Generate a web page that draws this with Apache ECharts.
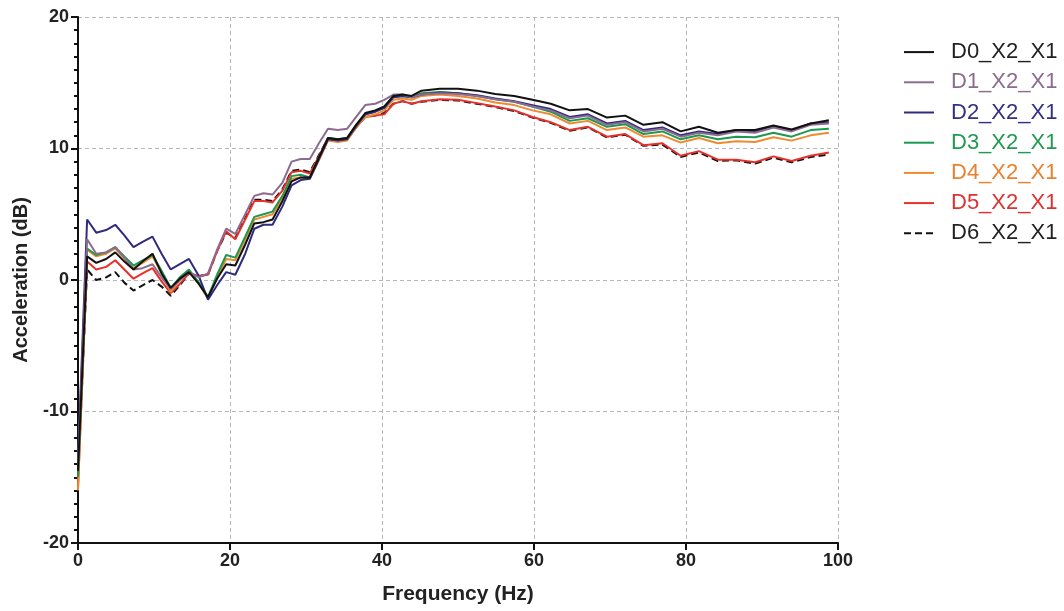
<!DOCTYPE html>
<html>
<head>
<meta charset="utf-8">
<script src="https://cdn.jsdelivr.net/npm/echarts@6/dist/echarts.min.js"></script>
<style>
html,body{margin:0;padding:0;background:#fff;}
#chart{width:1064px;height:611px;}
</style>
</head>
<body>
<div id="chart"></div>
<script>
const freq = [0, 1.2, 2.4, 3.7, 4.9, 6.1, 7.3, 8.5, 9.8, 11.0, 12.2, 13.4, 14.6, 15.9, 17.1, 18.3, 19.5,
  20.7, 22.0, 23.2, 24.4, 25.6, 26.9, 28.1, 29.3, 30.5, 31.7, 32.9, 34.2, 35.4, 36.6, 37.8, 39.1, 40.3, 41.5, 42.7, 43.9,
  45.2, 47.6, 50.0, 52.5, 54.9, 57.4, 59.8, 62.2, 64.7, 67.1, 69.6, 72.0, 74.4, 76.9, 79.3, 81.7, 84.2, 86.6, 89.1, 91.5, 93.9, 96.4, 98.8];

const D0 = [-14.5, 1.8, 1.3, 1.6, 2.1, 1.4, 0.8, 1.4, 2.0, 0.5, -0.6, 0.1, 0.6, -0.3, -1.3, 0.1, 1.2,
  1.1, 2.7, 4.3, 4.4, 4.6, 6.0, 7.5, 7.8, 7.8, 9.3, 10.8, 10.7, 10.8, 11.8, 12.7, 12.9, 13.2, 14.0, 14.1, 14.0,
  14.4, 14.55, 14.55, 14.4, 14.15, 14.0, 13.7, 13.4, 12.9, 13.0, 12.35, 12.5, 11.8, 12.0, 11.3, 11.65, 11.2, 11.4, 11.4, 11.75, 11.45, 11.9, 12.15];
const D1 = [-14.0, 3.1, 2.0, 2.1, 2.5, 1.7, 0.8, 0.9, 1.2, 0.2, -0.7, 0.0, 0.6, 0.2, 0.5, 2.3, 3.9,
  3.5, 5.0, 6.4, 6.6, 6.5, 7.4, 9.0, 9.2, 9.2, 10.4, 11.5, 11.4, 11.5, 12.4, 13.3, 13.4, 13.7, 14.1, 14.1, 13.9,
  14.1, 14.2, 14.15, 14.0, 13.75, 13.55, 13.2, 12.9, 12.3, 12.5, 11.8, 12.0, 11.3, 11.5, 10.9, 11.2, 11.0, 11.3, 11.2, 11.6, 11.3, 11.8, 11.9];
const D2 = [-13.5, 4.6, 3.6, 3.8, 4.2, 3.4, 2.5, 2.9, 3.3, 2.0, 0.8, 1.2, 1.6, 0.3, -1.5, -0.4, 0.6,
  0.4, 2.0, 3.9, 4.2, 4.2, 5.6, 7.2, 7.6, 7.7, 9.2, 10.7, 10.6, 10.7, 11.7, 12.6, 12.8, 13.1, 13.9, 14.0, 13.9,
  14.1, 14.25, 14.2, 14.05, 13.8, 13.6, 13.3, 13.0, 12.4, 12.6, 11.9, 12.1, 11.4, 11.6, 11.0, 11.3, 11.1, 11.4, 11.3, 11.7, 11.4, 11.9, 12.0];
const D3 = [-15.0, 2.4, 1.9, 2.1, 2.5, 1.8, 1.1, 1.5, 1.9, 0.7, -0.6, 0.2, 0.8, -0.2, -1.3, 0.4, 1.9,
  1.7, 3.3, 4.8, 5.0, 5.2, 6.4, 7.9, 8.0, 7.8, 9.3, 10.8, 10.7, 10.8, 11.8, 12.6, 12.8, 13.1, 13.9, 14.0, 13.9,
  14.2, 14.3, 14.2, 14.0, 13.75, 13.55, 13.2, 12.8, 12.1, 12.3, 11.65, 11.85, 11.1, 11.3, 10.7, 11.0, 10.7, 10.9, 10.85, 11.2, 10.9, 11.4, 11.5];
const D4 = [-16.0, 2.3, 1.8, 2.0, 2.4, 1.6, 0.9, 1.3, 1.8, 0.5, -0.9, 0.0, 0.7, -0.3, -1.4, 0.2, 1.6,
  1.5, 3.1, 4.6, 4.8, 5.0, 6.2, 7.7, 7.8, 7.7, 9.1, 10.6, 10.5, 10.6, 11.6, 12.4, 12.6, 12.9, 13.7, 13.8, 13.7,
  14.0, 14.1, 14.0, 13.8, 13.5, 13.3, 12.9, 12.6, 11.9, 12.1, 11.4, 11.6, 10.9, 11.0, 10.45, 10.8, 10.4, 10.55, 10.5, 10.85, 10.6, 11.0, 11.2];
const D5 = [-15.8, 1.4, 0.8, 1.0, 1.5, 0.8, 0.1, 0.5, 0.9, -0.1, -1.0, -0.3, 0.5, 0.3, 0.4, 2.2, 3.7,
  3.1, 4.6, 6.0, 6.0, 5.9, 6.8, 8.2, 8.3, 8.1, 9.4, 10.8, 10.6, 10.7, 11.6, 12.4, 12.5, 12.6, 13.4, 13.6, 13.4,
  13.6, 13.75, 13.7, 13.45, 13.2, 12.9, 12.4, 12.0, 11.4, 11.65, 10.9, 11.1, 10.25, 10.4, 9.45, 9.8, 9.15, 9.15, 8.95, 9.4, 9.05, 9.45, 9.7];
const D6 = [-15.0, 0.8, 0.0, 0.2, 0.6, -0.2, -0.8, -0.4, 0.0, -0.5, -1.2, -0.4, 0.5, 0.3, 0.4, 2.2, 3.6,
  3.2, 4.7, 6.1, 6.1, 6.0, 6.9, 8.3, 8.4, 8.2, 9.5, 10.8, 10.6, 10.7, 11.6, 12.4, 12.5, 12.7, 13.4, 13.6, 13.4,
  13.55, 13.7, 13.65, 13.4, 13.15, 12.85, 12.35, 11.95, 11.35, 11.6, 10.85, 11.05, 10.2, 10.3, 9.35, 9.7, 9.05, 9.1, 8.85, 9.3, 8.95, 9.35, 9.55];

const names = ['D0_X2_X1', 'D1_X2_X1', 'D2_X2_X1', 'D3_X2_X1', 'D4_X2_X1', 'D5_X2_X1', 'D6_X2_X1'];
const values = [D0, D1, D2, D3, D4, D5, D6];
const colors = ['#111111', '#8c6b8e', '#2f2b80', '#1a9a50', '#f08a30', '#e8302a', '#111111'];
const textColors = ['#222222', '#8c6b8e', '#332f85', '#1f9a4f', '#e8822f', '#e03030', '#222222'];

const font = '"Liberation Sans", Arial, sans-serif';

const chart = echarts.init(document.getElementById('chart'), null, {renderer: 'canvas'});

const series = names.map((n, i) => ({
  name: n,
  type: 'line',
  data: freq.map((f, j) => [f, values[i][j]]),
  showSymbol: false,
  symbol: 'none',
  z: 10 - i,
  lineStyle: {color: colors[i], width: 2, type: i === 6 ? [7, 4] : 'solid'},
  itemStyle: {color: colors[i]}
}));

chart.setOption({
  animation: false,
  backgroundColor: '#ffffff',
  grid: {left: 78, right: 226, top: 17, bottom: 68},
  legend: {
    orient: 'vertical',
    left: 898,
    top: 36,
    itemWidth: 30,
    itemHeight: 14,
    itemGap: 8,
    itemStyle: {opacity: 0},
    data: names.map((n, i) => ({name: n, textStyle: {color: textColors[i]}})),
    textStyle: {fontFamily: font, fontSize: 22, lineHeight: 22.2, padding: [0, 0, 0, 12]}
  },
  xAxis: {
    type: 'value',
    min: 0, max: 100, interval: 20,
    name: 'Frequency (Hz)',
    nameLocation: 'middle',
    nameGap: 41,
    nameTextStyle: {fontFamily: font, fontWeight: 'bold', fontSize: 21, color: '#222'},
    axisLine: {onZero: false, lineStyle: {color: '#111', width: 2}},
    axisTick: {show: true, length: 7, lineStyle: {color: '#111', width: 2}},
    axisLabel: {fontFamily: font, fontWeight: 'bold', fontSize: 18, color: '#222', margin: 9},
    splitLine: {show: true, lineStyle: {color: '#b8b8b8', type: [4, 3], width: 1}}
  },
  yAxis: {
    type: 'value',
    min: -20, max: 20, interval: 10,
    name: 'Acceleration (dB)',
    nameLocation: 'middle',
    nameGap: 47,
    nameTextStyle: {fontFamily: font, fontWeight: 'bold', fontSize: 20, color: '#222'},
    axisLine: {show: true, onZero: false, lineStyle: {color: '#111', width: 2}},
    axisTick: {show: true, length: 7, lineStyle: {color: '#111', width: 2}},
    minorTick: {show: true, splitNumber: 10, length: 4, lineStyle: {color: '#111', width: 2}},
    axisLabel: {fontFamily: font, fontWeight: 'bold', fontSize: 18, color: '#222', margin: 9},
    splitLine: {show: true, lineStyle: {color: '#b8b8b8', type: [4, 3], width: 1}}
  },
  series: series
});
</script>
</body>
</html>
